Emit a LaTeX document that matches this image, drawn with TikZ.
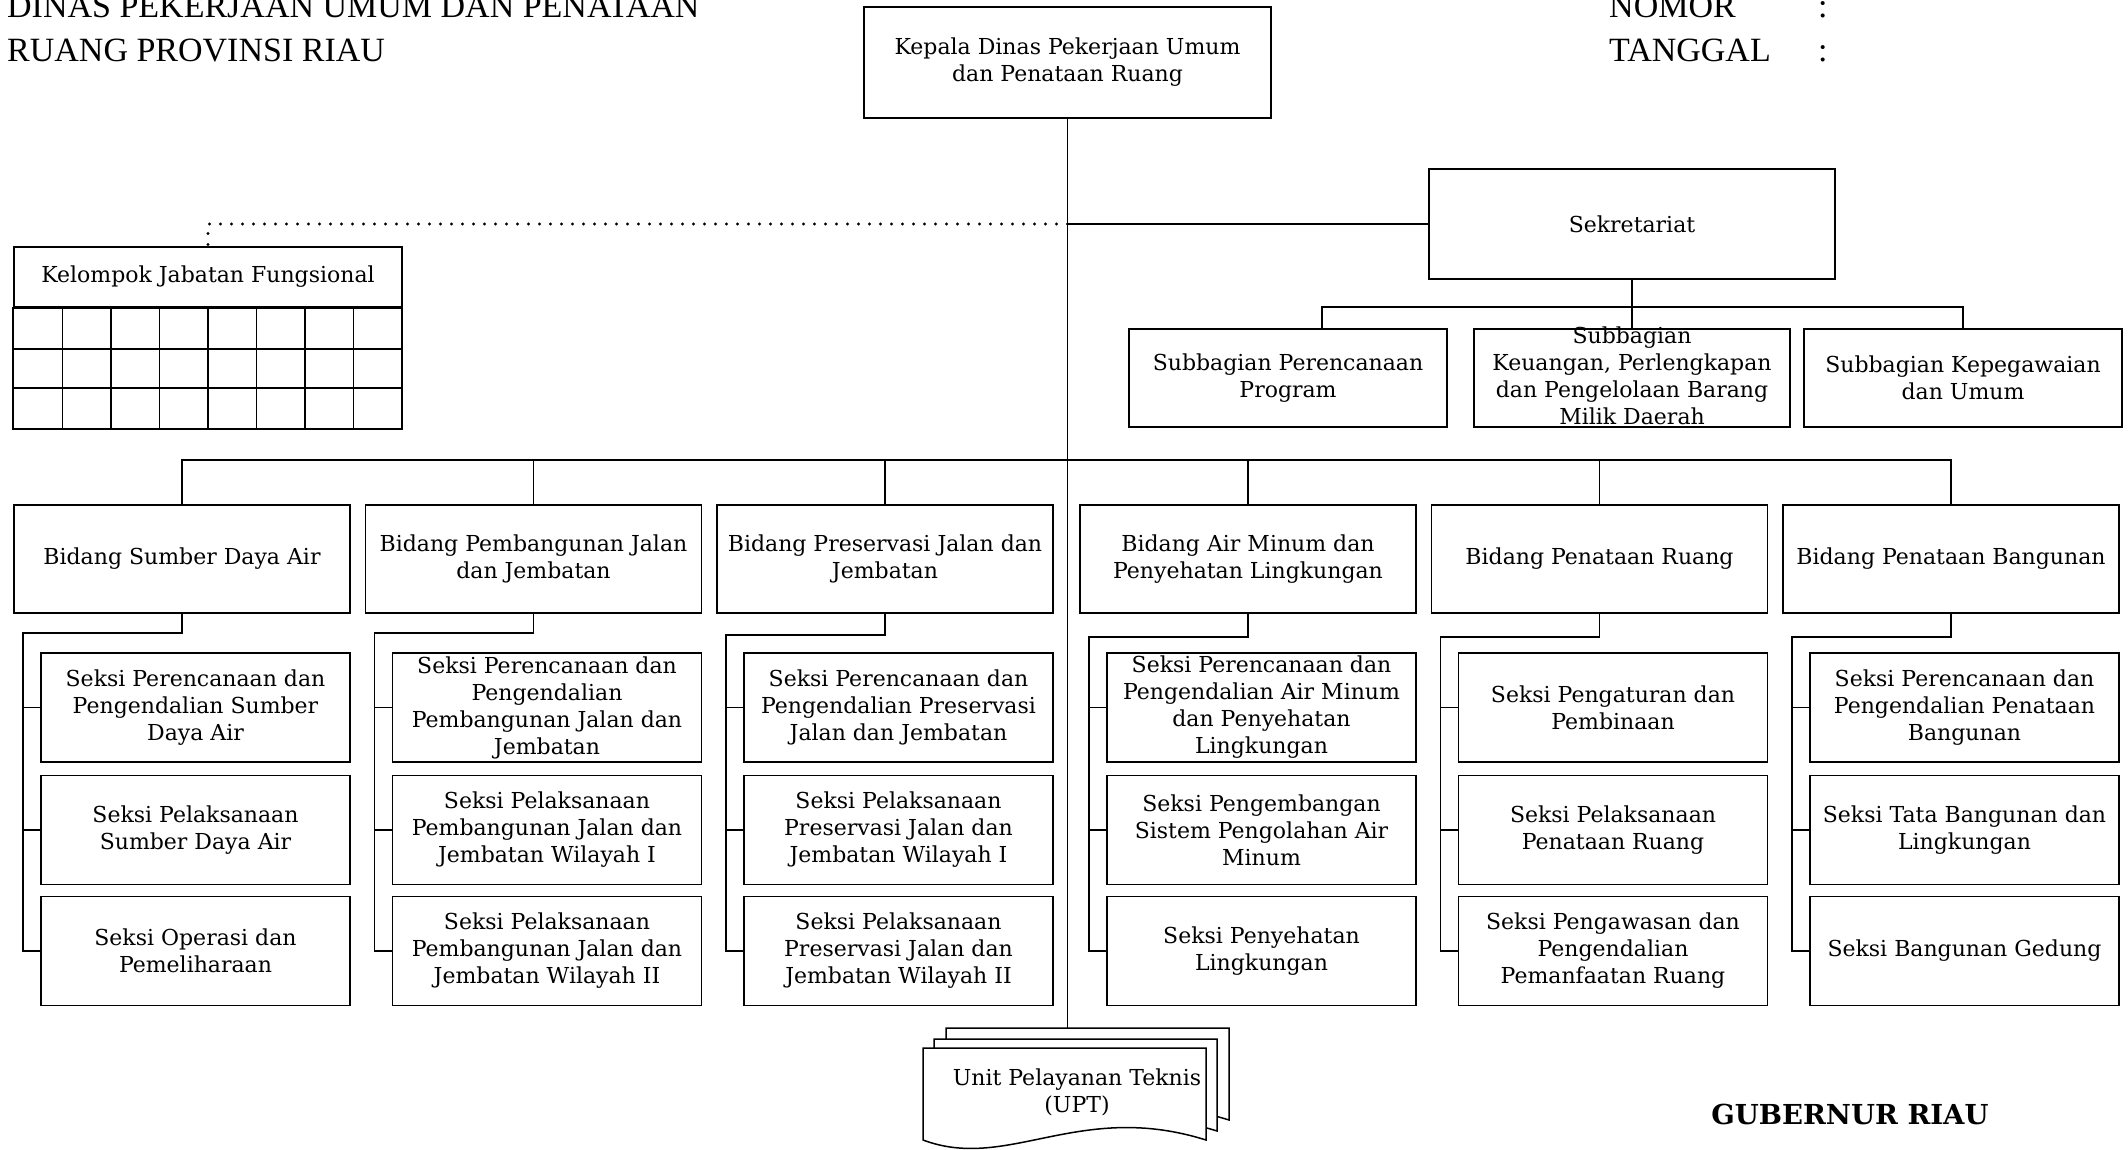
\documentclass[tikz,border=0pt]{standalone}
\usepackage{fontspec}
\setmainfont{Liberation Serif}
\newfontfamily\kotakfont{DejaVu Serif}

\begin{document}
\begin{tikzpicture}[x=1pt,y=-1pt,
  garis/.style={line width=1.5pt},
  kotak/.style={draw,line width=1.6pt,fill=white,align=center,inner sep=0pt,
    font=\kotakfont\fontsize{22}{27}\selectfont},
  teks/.style={align=center,inner sep=0pt,font=\kotakfont\fontsize{22}{27}\selectfont},
  bidang/.style={kotak,minimum width=336pt,minimum height=108pt},
  seksi/.style={kotak,minimum width=309pt,minimum height=109pt},
  subbag/.style={kotak,minimum width=318pt,minimum height=98pt},
  titik/.style={line width=3.2pt,line cap=round,dash pattern=on 0pt off 11pt},
  judul/.style={anchor=base west,inner sep=0pt,font=\fontsize{34}{44}\selectfont}]
\useasboundingbox (0,0) rectangle (2128,1150);

  % Judul
  \node[judul] (judul1) at (7,18) {DINAS PEKERJAAN UMUM DAN PENATAAN};
  \node[judul] (judul2) at (7,62) {RUANG PROVINSI RIAU};
  \node[judul] (nomor) at (1609,18) {NOMOR};
  \node[judul] (tanggal) at (1609,62) {TANGGAL};
  \node[judul] (titik1) at (1818,18) {:};
  \node[judul] (titik2) at (1818,62) {:};

  % Kepala dan sekretariat
  \node[kotak,minimum width=407pt,minimum height=111pt] (kepala) at (1067.5,62.5) {Kepala Dinas Pekerjaan Umum\\dan Penataan Ruang};
  \node[kotak,minimum width=406pt,minimum height=110pt] (sekretariat) at (1632,224) {Sekretariat};
  \coordinate (upt3) at (1067.5,1028);
  \draw[garis] (kepala.south) -- (upt3);
  \draw[garis] (kepala.south |- sekretariat.west) -- (sekretariat.west);

  % Kelompok jabatan fungsional
  \node[kotak,minimum width=388pt,minimum height=60pt] (kelompok) at (208,277) {Kelompok Jabatan Fungsional};
  \draw[line width=1.6pt] (kelompok.south west) rectangle (402,429);
  \draw[garis] (14,349) -- (402,349) (14,388) -- (402,388)
    (62.5,307) -- (62.5,429) (111,307) -- (111,429) (159.5,307) -- (159.5,429)
    (208,307) -- (208,429) (256.5,307) -- (256.5,429) (305,307) -- (305,429)
    (353.5,307) -- (353.5,429);
  \draw[titik] (kepala.south |- sekretariat.west) -| (kelompok.north);

  % Subbagian
  \node[subbag] (sb1) at (1288,378) {Subbagian Perencanaan\\Program};
  \node[subbag,minimum width=316pt] (sb2) at (1632,378) {};
  \node[teks] (sb2teks) at (1632,376) {Subbagian\\Keuangan, Perlengkapan\\dan Pengelolaan Barang\\Milik Daerah};
  \node[subbag] (sb3) at (1963,378) {Subbagian Kepegawaian\\dan Umum};
  \draw[garis] (sekretariat.south) -- (sb2.north);
  \draw[garis] ([xshift=34pt]sb1.north) -- ++(0,-21) -| (sb3.north);

  % Bidang
  \node[bidang] (b1) at (182,559) {Bidang Sumber Daya Air};
  \node[bidang] (b2) at (533.5,559) {Bidang Pembangunan Jalan\\dan Jembatan};
  \node[bidang] (b3) at (885,559) {Bidang Preservasi Jalan dan\\Jembatan};
  \node[bidang] (b4) at (1248,559) {Bidang Air Minum dan\\Penyehatan Lingkungan};
  \node[bidang] (b5) at (1599.5,559) {Bidang Penataan Ruang};
  \node[bidang] (b6) at (1951,559) {Bidang Penataan Bangunan};
  \draw[garis] (b1.north) -- ++(0,-44) -| (b6.north);
  \draw[garis] (b2.north) -- ++(0,-44) (b3.north) -- ++(0,-44)
    (b4.north) -- ++(0,-44) (b5.north) -- ++(0,-44);

  % Seksi
  \node[seksi] (s11) at (195.5,707.5) {Seksi Perencanaan dan\\Pengendalian Sumber\\Daya Air};
  \node[seksi] (s12) at (195.5,830) {Seksi Pelaksanaan\\Sumber Daya Air};
  \node[seksi] (s13) at (195.5,951) {Seksi Operasi dan\\Pemeliharaan};
  \node[seksi] (s21) at (547,707.5) {Seksi Perencanaan dan\\Pengendalian\\Pembangunan Jalan dan\\Jembatan};
  \node[seksi] (s22) at (547,830) {Seksi Pelaksanaan\\Pembangunan Jalan dan\\Jembatan Wilayah I};
  \node[seksi] (s23) at (547,951) {Seksi Pelaksanaan\\Pembangunan Jalan dan\\Jembatan Wilayah II};
  \node[seksi] (s31) at (898.5,707.5) {Seksi Perencanaan dan\\Pengendalian Preservasi\\Jalan dan Jembatan};
  \node[seksi] (s32) at (898.5,830) {Seksi Pelaksanaan\\Preservasi Jalan dan\\Jembatan Wilayah I};
  \node[seksi] (s33) at (898.5,951) {Seksi Pelaksanaan\\Preservasi Jalan dan\\Jembatan Wilayah II};
  \node[seksi] (s41) at (1261.5,707.5) {Seksi Perencanaan dan\\Pengendalian Air Minum\\dan Penyehatan\\Lingkungan};
  \node[seksi] (s42) at (1261.5,830) {Seksi Pengembangan\\Sistem Pengolahan Air\\Minum};
  \node[seksi] (s43) at (1261.5,951) {Seksi Penyehatan\\Lingkungan};
  \node[seksi] (s51) at (1613,707.5) {Seksi Pengaturan dan\\Pembinaan};
  \node[seksi] (s52) at (1613,830) {Seksi Pelaksanaan\\Penataan Ruang};
  \node[seksi] (s53) at (1613,951) {Seksi Pengawasan dan\\Pengendalian\\Pemanfaatan Ruang};
  \node[seksi] (s61) at (1964.5,707.5) {Seksi Perencanaan dan\\Pengendalian Penataan\\Bangunan};
  \node[seksi] (s62) at (1964.5,830) {Seksi Tata Bangunan dan\\Lingkungan};
  \node[seksi] (s63) at (1964.5,951) {Seksi Bangunan Gedung};

  % Garis bidang ke seksi
  \draw[garis] (b1.south) -- ++(0,19) -| ([xshift=-17pt]s13.west) -- (s13.west);
  \draw[garis] ([xshift=-17pt]s11.west) -- (s11.west) ([xshift=-17pt]s12.west) -- (s12.west);
  \draw[garis] (b2.south) -- ++(0,19) -| ([xshift=-17pt]s23.west) -- (s23.west);
  \draw[garis] ([xshift=-17pt]s21.west) -- (s21.west) ([xshift=-17pt]s22.west) -- (s22.west);
  \draw[garis] (b3.south) -- ++(0,21) -| ([xshift=-17pt]s33.west) -- (s33.west);
  \draw[garis] ([xshift=-17pt]s31.west) -- (s31.west) ([xshift=-17pt]s32.west) -- (s32.west);
  \draw[garis] (b4.south) -- ++(0,23) -| ([xshift=-17pt]s43.west) -- (s43.west);
  \draw[garis] ([xshift=-17pt]s41.west) -- (s41.west) ([xshift=-17pt]s42.west) -- (s42.west);
  \draw[garis] (b5.south) -- ++(0,23) -| ([xshift=-17pt]s53.west) -- (s53.west);
  \draw[garis] ([xshift=-17pt]s51.west) -- (s51.west) ([xshift=-17pt]s52.west) -- (s52.west);
  \draw[garis] (b6.south) -- ++(0,23) -| ([xshift=-17pt]s63.west) -- (s63.west);
  \draw[garis] ([xshift=-17pt]s61.west) -- (s61.west) ([xshift=-17pt]s62.west) -- (s62.west);

  % UPT
  \filldraw[garis,fill=white,shift={(23,-20)}] (923,1048) -- (923,1140) .. controls (1008,1172) and (1079,1100) .. (1206,1140) -- (1206,1048) -- cycle;
  \filldraw[garis,fill=white,shift={(11,-9)}] (923,1048) -- (923,1140) .. controls (1008,1172) and (1079,1100) .. (1206,1140) -- (1206,1048) -- cycle;
  \filldraw[garis,fill=white] (923,1048) -- (923,1140) .. controls (1008,1172) and (1079,1100) .. (1206,1140) -- (1206,1048) -- cycle;
  \node[teks] (upt) at (1077,1092) {Unit Pelayanan Teknis\\(UPT)};

  % Gubernur
  \node[font=\kotakfont\bfseries\fontsize{27.5}{30}\selectfont] (gubernur) at (1850,1114) {GUBERNUR RIAU};
\end{tikzpicture}
\end{document}
